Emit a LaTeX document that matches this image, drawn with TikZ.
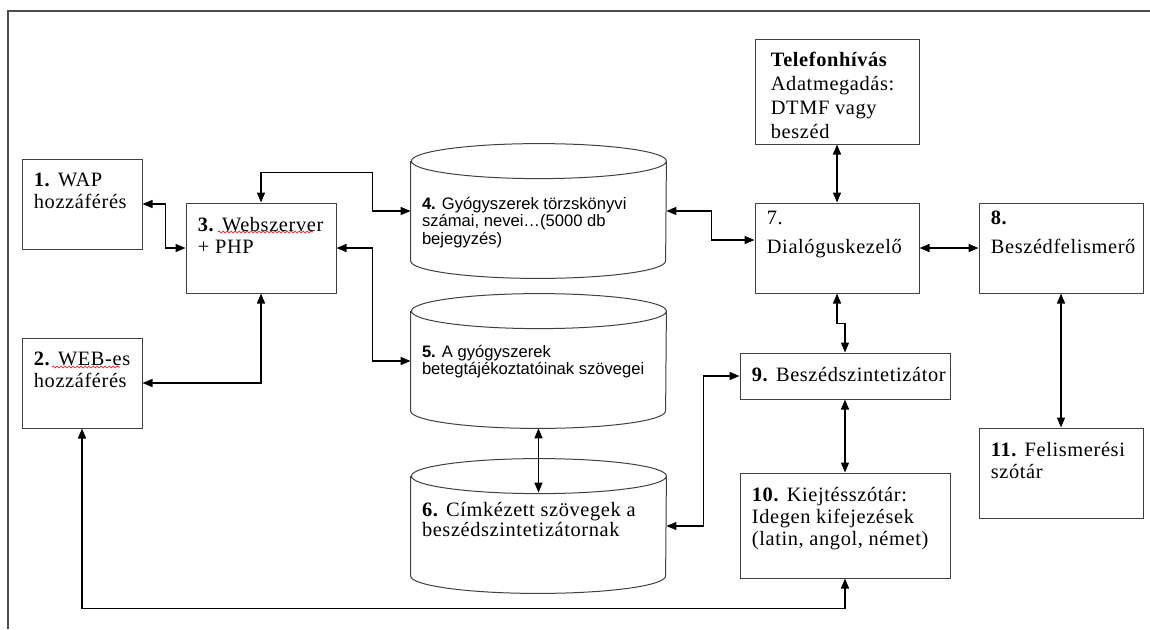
\documentclass[tikz,border=0pt]{standalone}
\usepackage{fontspec}
\setmainfont{Liberation Serif}[LetterSpace=3]
\newfontfamily\arialfont{Liberation Sans}
\usetikzlibrary{arrows.meta,decorations.pathmorphing}

\begin{document}
\begin{tikzpicture}[x=.5pt, y=-.5pt,
    box/.style={draw=black!75, line width=.5pt, inner sep=0pt},
    db/.style={inner sep=0pt, minimum width=127.5pt, minimum height=67pt},
    txt/.style={anchor=north west, inner sep=0pt, align=left, xshift=6pt, yshift=-7pt,
        font=\fontsize{10.2}{11}\selectfont},
    sanstxt/.style={txt, font=\arialfont\fontsize{8.3}{8.75}\selectfont},
    link/.style={{Triangle[length=5pt,width=4pt]}-{Triangle[length=5pt,width=4pt]}, line width=.75pt},
    squiggle/.style={red, line width=.3pt, decorate, decoration={snake, amplitude=.5pt, segment length=2pt}}]
\useasboundingbox (0,0) rectangle (1150,629);
\draw[black!70, line width=.9pt] (8,629) -- (8,11) -- (1150,11);

% access side
\node[box, minimum width=60pt, minimum height=45pt,
    label={[txt]north west:{\textbf{1.} WAP\\hozzáférés}}] (wap) at (82,204) {};
\node[box, minimum width=60pt, minimum height=45pt,
    label={[txt]north west:{\textbf{2.} WEB-es\\hozzáférés}}] (web) at (82,383) {};
\node[box, minimum width=75pt, minimum height=45pt,
    label={[txt]north west:{\textbf{3.} Webszerver\\+ PHP}}] (srv) at (261,248) {};
\draw[squiggle] (218,232) -- (313,232);
\draw[squiggle] (52,367) -- (120,367);

% databases
\node[db, label={[sanstxt, xshift=-.5pt, yshift=-19.5pt]north west:{\textbf{4.} Gyógyszerek törzskönyvi\\számai, nevei…(5000 db\\bejegyzés)}}] (db4) at (538.5,211) {};
\node[db, label={[sanstxt, xshift=-.5pt, yshift=-18.5pt]north west:{\textbf{5.} A gyógyszerek\\betegtájékoztatóinak szövegei}}] (db5) at (538.5,361) {};
\node[db, label={[txt, xshift=-.5pt, yshift=-14.5pt, font=\fontsize{10.2}{10}\selectfont]north west:{\textbf{6.} Címkézett szövegek a\\beszédszintetizátornak}}] (db6) at (538.5,526) {};
\foreach \d in {db4,db5,db6}
    \draw[black!75, line width=.5pt] ([yshift=-8.75pt]\d.north west) -- ([yshift=8.75pt]\d.south west)
        arc[start angle=180, end angle=360, x radius=63.75pt, y radius=8.75pt]
        -- ([yshift=-8.75pt]\d.north east)
        arc[start angle=0, end angle=180, x radius=63.75pt, y radius=8.75pt]
        arc[start angle=180, end angle=360, x radius=63.75pt, y radius=8.75pt];

% phone side
\node[box, minimum width=82pt, minimum height=52.5pt,
    label={[txt, xshift=2pt, yshift=.5pt, font=\fontsize{10.2}{12}\selectfont]north west:{\textbf{Telefonhívás}\\Adatmegadás:\\DTMF vagy\\beszéd}}] (tel) at (837,91.5) {};
\node[box, minimum width=82pt, minimum height=45pt,
    label={[txt, yshift=3pt]north west:{7.\\[3.5pt]Dialóguskezelő}}] (dlg) at (837,248) {};
\node[box, minimum width=82pt, minimum height=45pt,
    label={[txt, yshift=3pt]north west:{\textbf{8.}\\[3.5pt]Beszédfelismerő}}] (asr) at (1061,248) {};
\node[box, minimum width=105pt, minimum height=23pt,
    label={[txt]north west:{\textbf{9.} Beszédszintetizátor}}] (tts) at (845,376) {};
\node[box, minimum width=105pt, minimum height=52.5pt,
    label={[txt]north west:{\textbf{10.} Kiejtésszótár:\\Idegen kifejezések\\(latin, angol, német)}}] (lex) at (845,525.5) {};
\node[box, minimum width=82pt, minimum height=45pt,
    label={[txt]north west:{\textbf{11.} Felismerési\\szótár}}] (voc) at (1061,473) {};

% connections
\draw[link] (wap.east) -- ++(23,0) |- (srv.west);
\draw[link] (srv.north) -- ++(0,-30) -| ([xshift=-19pt]db4.west) -- (db4.west);
\draw[link] (srv.east) -| ([xshift=-19pt]db5.west) -- (db5.west);
\draw[link] (srv.south) |- (web.east);
\draw[link] (web.south) -- ++(0,180) -| (lex.south);
\draw[link] (db5.south) -- ([yshift=-17pt]db6.north);
\draw[link] (db4.east) -- ++(45,0) |- ([yshift=4pt]dlg.west);
\draw[link] (db6.east) -- ++(37,0) |- (tts.west);
\draw[link] (tel) -- (dlg);
\draw[link] (dlg) -- (asr);
\draw[link] (dlg.south) -- ++(0,30) -| (tts.north);
\draw[link] (tts) -- (lex);
\draw[link] (asr) -- (voc);
\end{tikzpicture}
\end{document}
